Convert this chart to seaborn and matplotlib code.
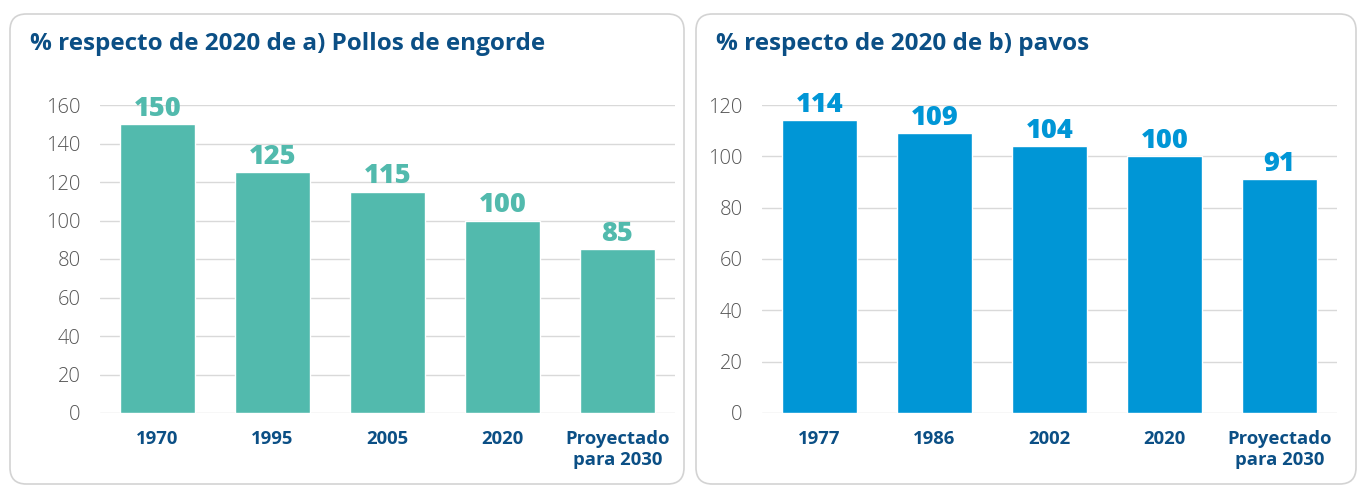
import matplotlib
matplotlib.use("Agg")
import matplotlib.pyplot as plt
import seaborn as sns
import pandas as pd
from matplotlib.patches import FancyBboxPatch

# Data
cats_a = ["1970", "1995", "2005", "2020", "Proyectado\npara 2030"]
vals_a = [150, 125, 115, 100, 85]
cats_b = ["1977", "1986", "2002", "2020", "Proyectado\npara 2030"]
vals_b = [114, 109, 104, 100, 91]
title_a = "% respecto de 2020 de a) Pollos de engorde"
title_b = "% respecto de 2020 de b) pavos"
yticks_a = [0, 20, 40, 60, 80, 100, 120, 140, 160]
yticks_b = [0, 20, 40, 60, 80, 100, 120]

color_a = "#52BAAD"
color_b = "#0096D6"
dark_blue = "#0B4F85"
grid_c = "#D9D9D9"
tick_c = "#555555"

sns.set_theme(style="white")
FONT = ["Open Sans", "DejaVu Sans"]
plt.rcParams["font.family"] = FONT

fig = plt.figure(figsize=(13.6, 4.86), dpi=100)
W, H = 1360, 486

def fx(px):
    return px / W

def fy(py):
    return 1 - py / H

# panel boxes
for x0, x1 in [(10, 684), (696, 1356)]:
    box = FancyBboxPatch((fx(x0), fy(484)), fx(x1 - x0), (484 - 14) / H,
                         boxstyle="round,pad=0,rounding_size=0.012",
                         transform=fig.transFigure, facecolor="none",
                         edgecolor="#D3D3D3", linewidth=1.2, zorder=-1,
                         mutation_aspect=W / H)
    fig.patches.append(box)

def panel(left_px, cats, vals, yticks, color, title, title_x):
    ax = fig.add_axes([fx(left_px), fy(413), fx(575), (413 - 105) / H])
    ax.patch.set_alpha(0)
    df = pd.DataFrame({"cat": cats, "val": vals})
    sns.barplot(data=df, x="cat", y="val", color=color, width=0.66,
                saturation=1, ax=ax, zorder=3)
    ax.set_xlim(-0.5, 4.5)
    ax.set_ylim(0, yticks[-1])
    ax.set_yticks(yticks)
    ax.yaxis.grid(True, color=grid_c, linewidth=1, zorder=0)
    ax.set_axisbelow(True)
    for s in ax.spines.values():
        s.set_visible(False)
    ax.set_xlabel("")
    ax.set_ylabel("")
    ax.tick_params(axis="y", length=0, pad=14, labelsize=14.5, labelcolor=tick_c)
    ax.tick_params(axis="x", length=0, pad=12, labelsize=13.3, labelcolor=dark_blue)
    for lab in ax.get_xticklabels():
        lab.set_fontweight("bold")
        lab.set_verticalalignment("top")
        lab.set_linespacing(1.25)
    for lab in ax.get_yticklabels():
        lab.set_fontweight("light")
    for i, v in enumerate(vals):
        ax.annotate(f"{v}", (i, v), xytext=(0, 6), textcoords="offset points",
                    ha="center", va="baseline", fontsize=19.5, fontweight="heavy",
                    color=color, annotation_clip=False, zorder=5)
    fig.text(fx(title_x), fy(44), title, fontsize=17.5, fontweight="bold",
             color=dark_blue, ha="left", va="center")
    return ax

panel(100, cats_a, vals_a, yticks_a, color_a, title_a, 30)
panel(762, cats_b, vals_b, yticks_b, color_b, title_b, 716)

fig.savefig("out.png", dpi=100, facecolor="white")
